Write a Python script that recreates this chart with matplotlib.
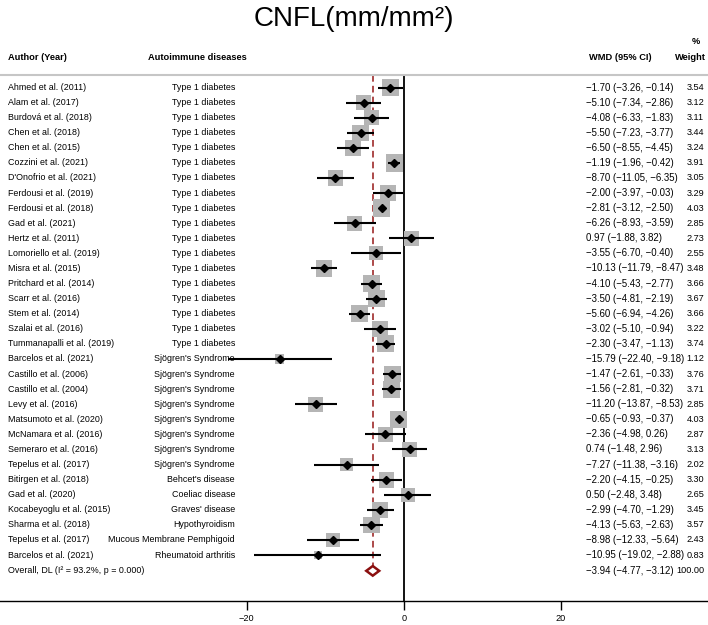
import matplotlib
matplotlib.use("Agg")
import matplotlib.pyplot as plt
import matplotlib.transforms as mtransforms
import numpy as np

plt.rcParams['font.family'] = ['Liberation Sans', 'DejaVu Sans']

# data
authors = ["Ahmed et al. (2011)", "Alam et al. (2017)", "Burdová et al. (2018)", "Chen et al. (2018)",
           "Chen et al. (2015)", "Cozzini et al. (2021)", "D'Onofrio et al. (2021)", "Ferdousi et al. (2019)",
           "Ferdousi et al. (2018)", "Gad et al. (2021)", "Hertz et al. (2011)", "Lomoriello et al. (2019)",
           "Misra et al. (2015)", "Pritchard et al. (2014)", "Scarr et al. (2016)", "Stem et al. (2014)",
           "Szalai et al. (2016)", "Tummanapalli et al. (2019)", "Barcelos et al. (2021)", "Castillo et al. (2006)",
           "Castillo et al. (2004)", "Levy et al. (2016)", "Matsumoto et al. (2020)", "McNamara et al. (2016)",
           "Semeraro et al. (2016)", "Tepelus et al. (2017)", "Bitirgen et al. (2018)", "Gad et al. (2020)",
           "Kocabeyoglu et al. (2015)", "Sharma et al. (2018)", "Tepelus et al. (2017)", "Barcelos et al. (2021)"]
diseases = ["Type 1 diabetes"] * 18 + ["Sjögren's Syndrome"] * 8 + [
    "Behcet's disease", "Coeliac disease", "Graves' disease", "Hypothyroidism",
    "Mucous Membrane Pemphigoid", "Rheumatoid arthritis"]
wmd = [-1.70, -5.10, -4.08, -5.50, -6.50, -1.19, -8.70, -2.00, -2.81, -6.26, 0.97, -3.55, -10.13,
       -4.10, -3.50, -5.60, -3.02, -2.30, -15.79, -1.47, -1.56, -11.20, -0.65, -2.36, 0.74, -7.27,
       -2.20, 0.50, -2.99, -4.13, -8.98, -10.95]
lo = [-3.26, -7.34, -6.33, -7.23, -8.55, -1.96, -11.05, -3.97, -3.12, -8.93, -1.88, -6.70, -11.79,
      -5.43, -4.81, -6.94, -5.10, -3.47, -22.40, -2.61, -2.81, -13.87, -0.93, -4.98, -1.48, -11.38,
      -4.15, -2.48, -4.70, -5.63, -12.33, -19.02]
hi = [-0.14, -2.86, -1.83, -3.77, -4.45, -0.42, -6.35, -0.03, -2.50, -3.59, 3.82, -0.40, -8.47,
      -2.77, -2.19, -4.26, -0.94, -1.13, -9.18, -0.33, -0.32, -8.53, -0.37, 0.26, 2.96, -3.16,
      -0.25, 3.48, -1.29, -2.63, -5.64, -2.88]
weights = [3.54, 3.12, 3.11, 3.44, 3.24, 3.91, 3.05, 3.29, 4.03, 2.85, 2.73, 2.55, 3.48, 3.66, 3.67,
           3.66, 3.22, 3.74, 1.12, 3.76, 3.71, 2.85, 4.03, 2.87, 3.13, 2.02, 3.30, 2.65, 3.45, 3.57,
           2.43, 0.83]
overall = -3.94
overall_lo = -4.77
overall_hi = -3.12
overall_label = "Overall, DL (I² = 93.2%, p = 0.000)"

W, H = 708, 625
fig = plt.figure(figsize=(W / 100, H / 100), dpi=100)

# axes placed so that 0 sits at x=403.7px, 7.85 px per unit
px0, ppu = 403.7, 7.85
ax = fig.add_axes([0, (H - 601) / H, 1, 526 / H])
ax.set_xlim(-px0 / ppu, (W - px0) / ppu)
ytop, ybot = -0.829, 34.05
ax.set_ylim(ybot, ytop)

n = len(wmd)
rows = np.arange(n)
orow = n + 0.05

# null line and overall line
ax.vlines(0, ytop, ybot, color='black', lw=1.3, zorder=1)
ax.vlines(overall, ytop, orow - 0.3, color='#9e2a2a', lw=1.2, linestyles=(0, (4, 2.5)), zorder=1)

# weight boxes
side_px = 17.5 * np.sqrt(np.array(weights) / 4.03)
ax.scatter(wmd, rows, s=(side_px * 0.72) ** 2, marker='s', color='#b5b5b5', lw=0, zorder=2)
ax.hlines(rows, lo, hi, color='black', lw=1.5, zorder=3)
ax.plot(wmd, rows, 'D', color='black', ms=4.0, zorder=4)

# overall diamond
ax.fill([overall_lo, overall, overall_hi, overall], [orow, orow - 0.32, orow, orow + 0.32],
        facecolor='white', edgecolor='#8b1010', lw=1.8, zorder=4)

for s in ['left', 'right']:
    ax.spines[s].set_visible(False)
ax.spines['top'].set_color('#c6c6c6')
ax.spines['top'].set_linewidth(1.5)
ax.spines['bottom'].set_color('black')
ax.spines['bottom'].set_linewidth(1.0)
ax.set_yticks([])
ax.set_xticks([-20, 0, 20])
ax.tick_params(axis='x', length=6.5, width=1.0, labelsize=6.6, pad=3)

# text columns
tr = mtransforms.blended_transform_factory(fig.transFigure, ax.transData)
fs = 6.4
fs_stat = 6.9
fs_w = 6.6
for i in range(n):
    ax.text(8 / W, i, authors[i], transform=tr, fontsize=fs, va='center', ha='left')
    ax.text(235 / W, i, diseases[i], transform=tr, fontsize=fs, va='center', ha='right')
    stat = f"{wmd[i]:.2f} ({lo[i]:.2f}, {hi[i]:.2f})".replace('-', '\u2212')
    ax.text(586 / W, i, stat, transform=tr, fontsize=fs_stat, va='center', ha='left')
    ax.text(704 / W, i, f"{weights[i]:.2f}", transform=tr, fontsize=fs_w, va='center', ha='right')

ax.text(8 / W, orow, overall_label, transform=tr, fontsize=fs, va='center', ha='left')
ostat = f"{overall:.2f} ({overall_lo:.2f}, {overall_hi:.2f})".replace('-', '\u2212')
ax.text(586 / W, orow, ostat, transform=tr, fontsize=fs_stat, va='center', ha='left')
ax.text(704 / W, orow, "100.00", transform=tr, fontsize=fs_w, va='center', ha='right')

# headers
hy = 1 - 57 / H
hfs = 6.7
fig.text(8 / W, hy, "Author (Year)", fontsize=hfs, fontweight='bold', va='center', ha='left')
fig.text(148 / W, hy, "Autoimmune diseases", fontsize=hfs, fontweight='bold', va='center', ha='left')
fig.text(589 / W, hy, "WMD (95% CI)", fontsize=hfs, fontweight='bold', va='center', ha='left')
fig.text(706 / W, hy, "Weight", fontsize=hfs, fontweight='bold', va='center', ha='right')
fig.text(700 / W, 1 - 42 / H, "%", fontsize=hfs, fontweight='bold', va='center', ha='right')

fig.text(0.5, 1 - 19 / H, "CNFL(mm/mm²)", fontsize=20, va='center', ha='center')

fig.savefig("out.png", dpi=100)
